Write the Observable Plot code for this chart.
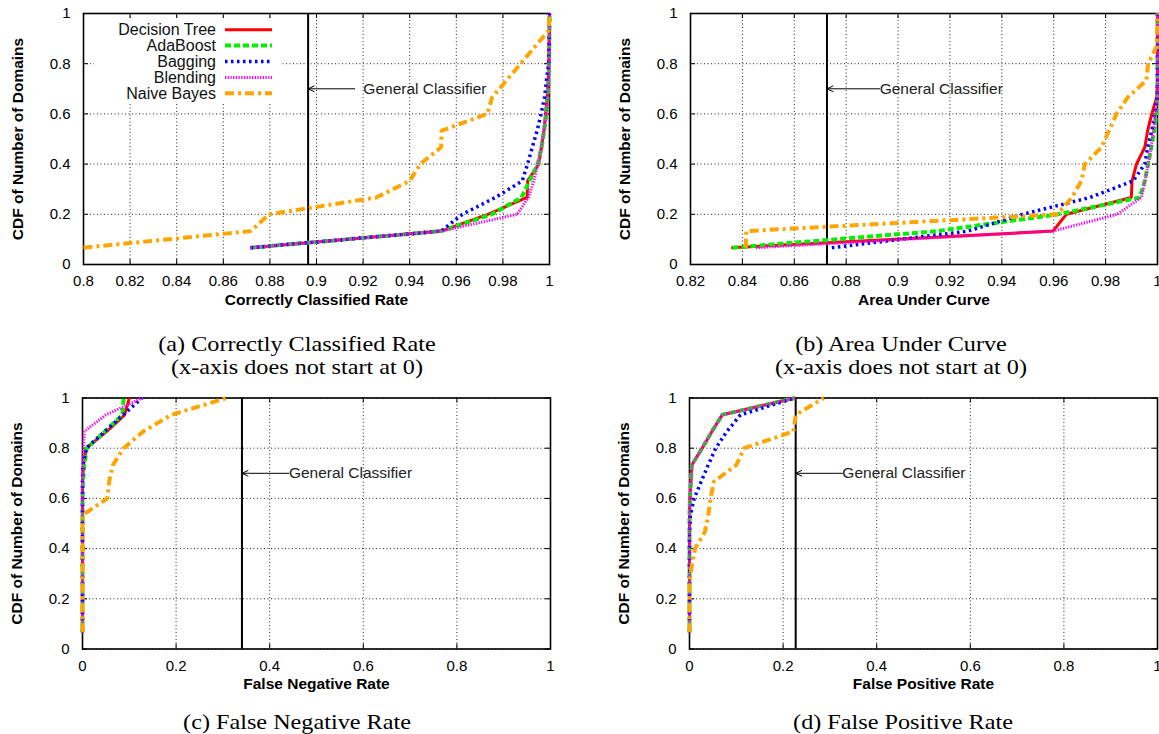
<!DOCTYPE html>
<html><head><meta charset="utf-8">
<script src="https://cdn.jsdelivr.net/npm/d3@7"></script>
<script src="https://cdn.jsdelivr.net/npm/@observablehq/plot@0.6"></script>
<style>
body{margin:0;background:#fff;}
#root{position:relative;width:1159px;height:734px;overflow:hidden;background:#fff;}
.panel{position:absolute;}
.cap{position:absolute;font-family:"Liberation Serif","Times New Roman",serif;font-size:22px;line-height:23px;text-align:center;white-space:nowrap;transform:translateX(-50%) scaleX(1.1);color:#000;}
</style></head><body><div id="root"></div>
<script>
// ---------- data ----------
const classifiers = ["Decision Tree", "AdaBoost", "Bagging", "Blending", "Naive Bayes"];
// CDF levels (fraction of domains) shared by every curve
const cdfLevels = [0.067, 0.133, 0.2, 0.267, 0.333, 0.4, 0.467, 0.533, 0.6, 0.667, 0.733, 0.8, 0.867, 0.933, 1.0];
const yTicks = [0, 0.2, 0.4, 0.6, 0.8, 1];

// (a) Correctly Classified Rate
const ccrTicks = [0.8, 0.82, 0.84, 0.86, 0.88, 0.9, 0.92, 0.94, 0.96, 0.98, 1];
const ccrDecisionTree = [0.8717, 0.9535, 0.9735, 0.9904, 0.9906, 0.9954, 0.9966, 0.9976, 0.9983, 0.999, 0.9995, 0.9997, 0.9998, 0.9999, 1];
const ccrAdaBoost     = [0.8717, 0.9535, 0.9752, 0.988, 0.9914, 0.995, 0.9966, 0.9977, 0.9986, 0.9992, 0.9996, 0.9998, 0.9999, 1, 1];
const ccrBagging      = [0.8717, 0.9535, 0.9626, 0.9768, 0.9883, 0.9906, 0.9926, 0.9947, 0.9964, 0.9979, 0.9987, 0.9996, 0.9998, 0.9999, 1];
const ccrBlending     = [0.8717, 0.9535, 0.9861, 0.9909, 0.9933, 0.995, 0.9964, 0.9976, 0.9987, 0.9993, 0.9996, 0.9998, 0.9999, 1, 1];
const ccrNaiveBayes   = [0.8, 0.8717, 0.8797, 0.9257, 0.94, 0.9445, 0.9535, 0.9537, 0.9733, 0.9754, 0.9815, 0.9876, 0.9937, 0.9997, 1];

// (b) Area Under Curve
const aucTicks = [0.82, 0.84, 0.86, 0.88, 0.9, 0.92, 0.94, 0.96, 0.98, 1];
const aucDecisionTree = [0.8357, 0.9597, 0.9649, 0.9899, 0.9902, 0.9919, 0.9951, 0.9962, 0.9978, 0.9997, 1, 1, 1, 1, 1];
const aucAdaBoost     = [0.8362, 0.915, 0.9617, 0.9931, 0.9951, 0.9964, 0.9976, 0.9987, 0.9996, 1, 1, 1, 1, 1, 1];
const aucBagging      = [0.8745, 0.927, 0.948, 0.974, 0.9906, 0.9951, 0.9962, 0.9978, 0.999, 0.9999, 1, 1, 1, 1, 1];
const aucBlending     = [0.8452, 0.9597, 0.9845, 0.9938, 0.9952, 0.9964, 0.9975, 0.9985, 0.9992, 1, 1, 1, 1, 1, 1];
const aucNaiveBayes   = [0.8413, 0.8415, 0.9614, 0.967, 0.9707, 0.972, 0.9784, 0.9813, 0.9842, 0.9886, 0.9957, 0.9964, 0.9996, 1, 1];

// (c) False Negative Rate
const rateTicks = [0, 0.2, 0.4, 0.6, 0.8, 1];
const fnrDecisionTree = [0, 0, 0, 0, 0, 0, 0, 0, 0, 0, 0.002, 0.008, 0.052, 0.09, 0.1];
const fnrAdaBoost     = [0, 0, 0, 0, 0, 0, 0, 0, 0, 0.001, 0.004, 0.009, 0.048, 0.085, 0.088];
const fnrBagging      = [0, 0, 0, 0, 0, 0, 0, 0, 0, 0, 0.001, 0.008, 0.048, 0.087, 0.127];
const fnrBlending     = [0, 0, 0, 0, 0, 0, 0, 0, 0, 0, 0.001, 0.002, 0.004, 0.05, 0.128];
const fnrNaiveBayes   = [0, 0, 0, 0, 0, 0, 0, 0, 0.053, 0.057, 0.065, 0.088, 0.13, 0.19, 0.308];

// (d) False Positive Rate
const fprDecisionTree = [0, 0, 0, 0, 0, 0, 0, 0, 0.001, 0.003, 0.005, 0.027, 0.048, 0.07, 0.225];
const fprAdaBoost     = [0, 0, 0, 0, 0, 0, 0, 0, 0.001, 0.003, 0.005, 0.027, 0.048, 0.07, 0.225];
const fprBagging      = [0, 0, 0, 0, 0, 0, 0, 0.002, 0.01, 0.025, 0.04, 0.056, 0.08, 0.109, 0.225];
const fprBlending     = [0, 0, 0, 0, 0, 0, 0, 0, 0.001, 0.003, 0.005, 0.027, 0.048, 0.07, 0.226];
const fprNaiveBayes   = [0, 0, 0, 0, 0.005, 0.012, 0.033, 0.04, 0.045, 0.052, 0.1, 0.117, 0.222, 0.227, 0.287];

// "General Classifier" reference value per panel, and where its arrow/label start
const generalClassifier = [0.8964, 0.8726, 0.3407, 0.2269];
const generalArrowFrom  = [0.9164, 0.8929, 0.441, 0.3266];
const generalLabelX     = [0.9201, 0.8929, 0.441, 0.3266];
const generalLabelY     = 0.7;
const generalLabel      = "General Classifier";

const xTitles = ["Correctly Classified Rate", "Area Under Curve", "False Negative Rate", "False Positive Rate"];
const yTitle = "CDF of Number of Domains";
const captions = [
  ["(a) Correctly Classified Rate", "(x-axis does not start at 0)"],
  ["(b) Area Under Curve", "(x-axis does not start at 0)"],
  ["(c) False Negative Rate"],
  ["(d) False Positive Rate"]
];

// ---------- styles ----------
const seriesStyle = {
  "Decision Tree": {stroke: "#ff0000", strokeWidth: 3,   strokeDasharray: null},
  "AdaBoost":      {stroke: "#00f000", strokeWidth: 4,   strokeDasharray: "6,3"},
  "Bagging":       {stroke: "#0000ff", strokeWidth: 3.5, strokeDasharray: "2.5,3.5"},
  "Blending":      {stroke: "#ff00ff", strokeWidth: 3,   strokeDasharray: "1.3,1.4"},
  "Naive Bayes":   {stroke: "#ffa500", strokeWidth: 4,   strokeDasharray: "9,4,3,4"}
};
const FONT = "'Liberation Sans', Arial, Helvetica, sans-serif";
const fmt = d => String(+d.toFixed(3));

function makePanel(idx, xDomain, xTicks, seriesList, geom) {
  const innerH = geom.height - geom.marginTop - geom.marginBottom;
  const innerW = geom.width - geom.marginLeft - geom.marginRight;
  const lines = classifiers.map((c, i) => {
    const pts = seriesList[i].map((x, k) => ({x, y: cdfLevels[k]}));
    const s = seriesStyle[c];
    return Plot.line(pts, {x: "x", y: "y", stroke: s.stroke, strokeWidth: s.strokeWidth,
      strokeDasharray: s.strokeDasharray, strokeLinecap: "butt", strokeLinejoin: "miter"});
  });
  const gc = generalClassifier[idx];
  return Plot.plot({
    width: geom.width, height: geom.height,
    marginLeft: geom.marginLeft, marginRight: geom.marginRight,
    marginTop: geom.marginTop, marginBottom: geom.marginBottom,
    style: {fontFamily: FONT, fontSize: "15px", background: "transparent", overflow: "visible", color: "#000"},
    x: {domain: xDomain},
    y: {domain: [0, 1]},
    marks: [
      Plot.gridX({ticks: xTicks, stroke: "#000", strokeOpacity: 0.85, strokeWidth: 1, strokeDasharray: "1,2.5"}),
      Plot.gridY({ticks: yTicks, stroke: "#000", strokeOpacity: 0.85, strokeWidth: 1, strokeDasharray: "1,2.5"}),
      Plot.frame({stroke: "#000", strokeWidth: 1.6}),
      // inward mirror ticks
      Plot.tickX(xTicks, {x: d => d, insetTop: innerH - 5, stroke: "#000"}),
      Plot.tickX(xTicks, {x: d => d, insetBottom: innerH - 5, stroke: "#000"}),
      Plot.tickY(yTicks, {y: d => d, insetRight: innerW - 5, stroke: "#000"}),
      Plot.tickY(yTicks, {y: d => d, insetLeft: innerW - 5, stroke: "#000"}),
      Plot.ruleX([gc], {stroke: "#000", strokeWidth: 2}),
      ...lines,
      Plot.arrow([{x1: generalArrowFrom[idx], x2: gc, y: generalLabelY}],
        {x1: "x1", x2: "x2", y1: "y", y2: "y", stroke: "#000", strokeWidth: 1, headLength: 10, headAngle: 50}),
      Plot.text([{x: generalLabelX[idx], y: generalLabelY, t: generalLabel}],
        {x: "x", y: "y", text: "t", textAnchor: "start", fontSize: 15.5, fill: "#222"}),
      Plot.axisX({ticks: xTicks, tickSize: 0, tickPadding: 11, tickFormat: fmt, fontSize: 15, label: null}),
      Plot.axisY({ticks: yTicks, tickSize: 0, tickPadding: 13, tickFormat: fmt, fontSize: 15, label: null}),
      Plot.text([xTitles[idx]], {frameAnchor: "bottom", dy: 40, text: d => d, fontWeight: "bold", fontSize: 15.5}),
      Plot.text([yTitle], {frameAnchor: "left", textAnchor: "middle", dx: -65, rotate: -90, text: d => d, fontWeight: "bold", fontSize: 15.5})
    ]
  });
}

const root = document.getElementById("root");
function place(node, left, top) {
  node.classList.add("panel");
  node.style.left = left + "px";
  node.style.top = top + "px";
  root.appendChild(node);
}

const geomA = {width: 580, height: 320, marginLeft: 83, marginRight: 31, marginTop: 13, marginBottom: 56};
const geomB = {width: 579, height: 320, marginLeft: 110, marginRight: 2, marginTop: 13, marginBottom: 56};
const geomC = {width: 580, height: 320, marginLeft: 82, marginRight: 30, marginTop: 17.5, marginBottom: 51.5};
const geomD = {width: 579, height: 320, marginLeft: 109, marginRight: 2, marginTop: 17.5, marginBottom: 51.5};

place(makePanel(0, [0.8, 1], ccrTicks, [ccrDecisionTree, ccrAdaBoost, ccrBagging, ccrBlending, ccrNaiveBayes], geomA), 0, 0);
place(makePanel(1, [0.82, 1], aucTicks, [aucDecisionTree, aucAdaBoost, aucBagging, aucBlending, aucNaiveBayes], geomB), 580, 0);
place(makePanel(2, [0, 1], rateTicks, [fnrDecisionTree, fnrAdaBoost, fnrBagging, fnrBlending, fnrNaiveBayes], geomC), 0, 380);
place(makePanel(3, [0, 1], rateTicks, [fprDecisionTree, fprAdaBoost, fprBagging, fprBlending, fprNaiveBayes], geomD), 580, 380);

// ---------- legend (inside panel a, top-left) ----------
const leg = d3.create("svg").attr("width", 300).attr("height", 110)
  .style("position", "absolute").style("left", "0px").style("top", "0px").style("overflow", "visible");
leg.append("rect").attr("x", 94).attr("y", 19).attr("width", 187).attr("height", 84).attr("fill", "#fff");
classifiers.forEach((c, i) => {
  const y = 29.7 + i * 15.9;
  const s = seriesStyle[c];
  leg.append("text").attr("x", 216).attr("y", y).attr("dy", "0.35em").attr("text-anchor", "end")
    .attr("font-family", FONT).attr("font-size", 16).attr("fill", "#111").text(c);
  leg.append("line").attr("x1", 225).attr("x2", 272).attr("y1", y).attr("y2", y)
    .attr("stroke", s.stroke).attr("stroke-width", s.strokeWidth)
    .attr("stroke-dasharray", s.strokeDasharray).attr("stroke-linecap", "butt");
});
root.appendChild(leg.node());

// ---------- captions ----------
const capPos = [[297, 332], [901, 332], [297, 710], [903, 710]];
captions.forEach((lines, i) => {
  const div = document.createElement("div");
  div.className = "cap";
  div.style.left = capPos[i][0] + "px";
  div.style.top = capPos[i][1] + "px";
  div.innerHTML = lines.join("<br>");
  root.appendChild(div);
});
</script>
</body></html>
